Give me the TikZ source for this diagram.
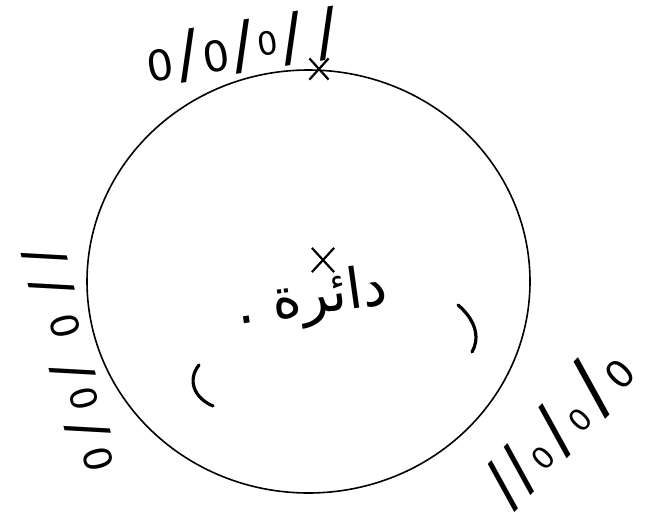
\documentclass[tikz,border=0pt]{standalone}
\usepackage{fontspec}
\setmainfont{DejaVu Sans}
\newfontfamily\arabicfont[Script=Arabic]{DejaVu Sans}
\TeXXeTstate=1
\usetikzlibrary{shapes.misc,shapes.geometric}
\newcommand\Zr[1]{{\fontsize{#1pt}{#1pt}\selectfont 0}}
\newcommand\Sl[1]{{\fontsize{#1pt}{#1pt}\selectfont /}}
\tikzset{
  ring/.style={draw, ellipse, line width=1.6pt, inner sep=0pt},
  xmark/.style={draw, cross out, line width=2.2pt, inner sep=0pt},
  paren/.style={line width=3.2pt, line cap=round},
  meter/.style={inner sep=0pt},
}
\begin{document}
\begin{tikzpicture}[x=1pt,y=-1pt]
\useasboundingbox[fill=white] (0,0) rectangle (645,520);
% circle
\node[ring, minimum width=443pt, minimum height=423pt] (circ) at (308.5,281.5) {};
% marks
\node[xmark, minimum width=17pt, minimum height=19pt] (topx) at (319,69) {};
\node[xmark, minimum width=20pt, minimum height=22pt] (ctrx) at (323,260) {};
% word
\node[inner sep=0pt, rotate=8, font=\arabicfont\fontsize{56pt}{56pt}\selectfont] (word) at (312,300) {\beginR دائرة .\endR};
% labels
\node[meter, rotate=9] (top) at (242,47) {\Zr{42}\kern4pt\Sl{64}\kern4pt\Zr{42}\kern4pt\Sl{64}\kern4pt\raisebox{8pt}{\Zr{32}}\kern3pt\Sl{64}\kern14pt\Sl{64}};
\node[meter, rotate=104] (left) at (70,360) {\Zr{38}\kern10pt\Sl{54}\kern10pt\Zr{36}\kern8pt\Sl{54}\kern26pt\Zr{38}\kern20pt\Sl{54}\kern12pt\Sl{54}};
\node[meter, rotate=46] (right) at (557,425) {\Sl{64}\kern2pt\Sl{64}\kern5pt\Zr{30}\kern6pt\Sl{68}\kern5pt\Zr{30}\kern8pt\Sl{76}\kern5pt\Zr{38}};
% arcs inside
\draw[paren] (458,305) .. controls (478,322) and (479,340) .. (472,352);
\draw[paren] (199,365) .. controls (187,380) and (194,398) .. (213,406);
\end{tikzpicture}
\end{document}
